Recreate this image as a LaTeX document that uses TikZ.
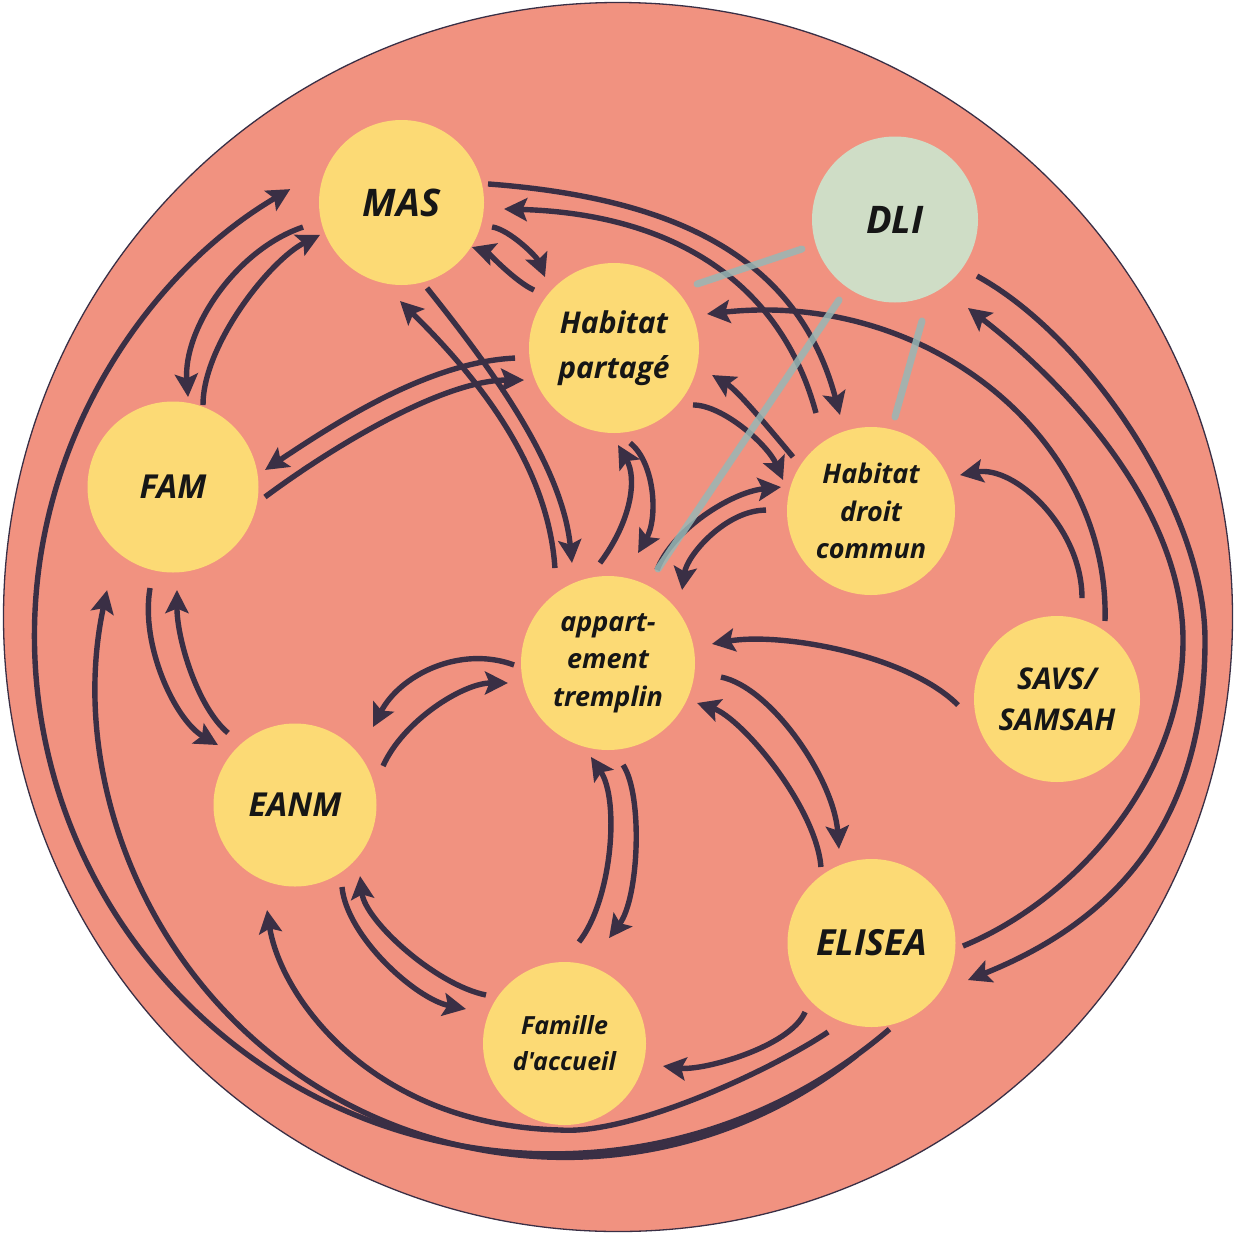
\documentclass[tikz,border=0pt]{standalone}
\usepackage{fontspec}
\setmainfont{Open Sans}[Ligatures=TeXOff]
\usetikzlibrary{arrows.meta,calc}
\definecolor{salmonbg}{HTML}{F19280}
\definecolor{hubfill}{HTML}{FCDA75}
\definecolor{dlifill}{HTML}{CFDDC6}
\definecolor{inkc}{HTML}{3A2F45}
\definecolor{textc}{HTML}{161616}
\definecolor{tiec}{HTML}{98B7B5}
\begin{document}
\begin{tikzpicture}[x=1pt,y=-1pt,
  hub/.style={circle, fill=hubfill, inner sep=0pt, minimum size=#1,
    align=center, text=textc},
  lbl/.style 2 args={font=\fontsize{#1}{#2}\selectfont\bfseries\itshape},
  link/.style={draw=inkc, line width=5.4pt,
    -{Stealth[length=23pt,width=23pt,inset=4.5pt]}},
  tie/.style={draw=tiec, line width=7pt, line cap=round, opacity=0.85}]
\useasboundingbox (0,0) rectangle (1236,1234);
\fill[white] (0,0) rectangle (1236,1234);
\draw[fill=salmonbg, draw=inkc, line width=1.3pt] (618,617) circle[radius=614.5];

% places
\node[hub=165pt, lbl={38}{42}] (MAS) at (401.5,202.5) {\raisebox{-4pt}{MAS}};
\node[hub=166pt, lbl={38}{42}, fill=dlifill] (DLI) at (895,219.5) {DLI};
\node[hub=170pt, lbl={30}{45}] (Hp) at (614,348) {Habitat\\partagé};
\node[hub=171pt, lbl={33}{36}] (FAM) at (173,487) {FAM};
\node[hub=168pt, lbl={27}{37.5}] (Hdc) at (871,511) {Habitat\\droit\\commun};
\node[hub=174pt, lbl={27}{37.5}] (APP) at (608,663) {appart-\\ement\\tremplin};
\node[hub=166pt, lbl={30}{41}] (SAVS) at (1057,699) {SAVS/\\SAMSAH};
\node[hub=163pt, lbl={33}{36}] (EANM) at (295,805) {EANM};
\node[hub=168pt, lbl={36}{40}] (ELISEA) at (871.5,943) {ELISEA};
\node[hub=163pt, lbl={25}{36}] (FAC) at (564.5,1043.5) {Famille\\d'accueil};

% bend points of the long outer connectors
\coordinate (bendE) at (1205,640);
\coordinate (bendF) at (1183,640);
\coordinate (bendS) at (560,1130);

% MAS links
\draw[link] ($(MAS)+(15.1:93.8)$) .. controls +(18,3) and +(-8,-20) .. ($(Hp)+(-134.2:99)$);
\draw[link] ($(Hp)+(-144.1:98.8)$) .. controls +(-18,-8) and +(15,5) .. ($(MAS)+(32.3:83.4)$);
\draw[link] ($(MAS)+(73.4:89.2)$) .. controls +(60,75) and +(-10,-100) .. ($(APP)+(-109.8:106.3)$);
\draw[link] ($(APP)+(-119.2:108.8)$) .. controls +(-7,-108) and +(70,69) .. ($(MAS)+(90.9:98.5)$);
\draw[link] ($(MAS)+(-12.1:88.5)$) .. controls +(200,15) and +(-40,-150) .. ($(Hdc)+(-107.9:100.9)$);
\draw[link] ($(Hdc)+(-119.3:112.4)$) .. controls +(-35,-130) and +(170,5) .. ($(MAS)+(3.6:102.7)$);
\draw[link] ($(MAS)+(166:101.5)$) .. controls +(-68,23) and +(-5,-67) .. ($(FAM)+(-80.5:91.2)$);
\draw[link] ($(FAM)+(-69.9:87.3)$) .. controls +(0,-60) and +(-50,25) .. ($(MAS)+(158.3:87.7)$);

% Habitat partagé links
\draw[link] ($(Hp)+(174.2:99.5)$) .. controls +(-85,4) and +(75,-50) .. ($(FAM)+(-10.5:93.6)$);
\draw[link] ($(FAM)+(6.2:92.5)$) .. controls +(70,-52) and +(-80,0) .. ($(Hp)+(160.4:95.5)$);
\draw[link] ($(APP)+(-94.6:100.3)$) .. controls +(32,-43) and +(19,33) .. ($(Hp)+(87.6:97.1)$);
\draw[link] ($(Hp)+(80.4:96.3)$) .. controls +(25,20) and +(20,-35) .. ($(APP)+(-74.7:114)$);
\draw[link] ($(Hp)+(35.8:97.4)$) .. controls +(30,0) and +(-15,-35) .. ($(Hdc)+(-160.6:93.3)$);
\draw[link] ($(Hdc)+(-145.3:94.9)$) .. controls +(-25,-30) and +(25,15) .. ($(Hp)+(15.4:101.7)$);

% Habitat droit commun links
\draw[link] ($(APP)+(-62.2:105.1)$) .. controls +(15,-40) and +(-50,5) .. ($(Hdc)+(-165.1:93.1)$);
\draw[link] ($(Hdc)+(180.5:105)$) .. controls +(-40,0) and +(5,-35) .. ($(APP)+(-44.6:104)$);

% SAVS/SAMSAH links
\draw[link] ($(SAVS)+(-76.1:104)$) .. controls +(0,-70) and +(55,-10) .. ($(Hdc)+(-22:96)$);
\draw[link] ($(SAVS)+(-58.4:91.6)$) .. controls +(5,-181) and +(223,-24) .. ($(Hp)+(-20.1:99)$);
\draw[link] ($(SAVS)+(176.5:99.2)$) .. controls +(-50,-50) and +(70,-12) .. ($(APP)+(-10.4:105.7)$);

% DLI and ELISEA along the right rim
\draw[link] ($(DLI)+(34.6:99.6)$) .. controls +(110,60) and +(0,-130) .. (bendE)
  .. controls +(0,180) and +(150,-60) .. ($(ELISEA)+(21:103.3)$);
\draw[link] ($(ELISEA)+(1.9:91.5)$) .. controls +(110,-45) and +(0,140) .. (bendF)
  .. controls +(0,-130) and +(100,77) .. ($(DLI)+(50.5:114.7)$);

% appartement tremplin links
\draw[link] ($(APP)+(7.1:113.9)$) .. controls +(50,10) and +(-5,-70) .. ($(ELISEA)+(-109.1:99.5)$);
\draw[link] ($(ELISEA)+(-123.6:91.3)$) .. controls +(-5,-60) and +(45,15) .. ($(APP)+(24.2:97.6)$);
\draw[link] ($(APP)+(178.8:94)$) .. controls +(-54,-20) and +(27,-52) .. ($(EANM)+(-45:110.3)$);
\draw[link] ($(EANM)+(-23.9:96.3)$) .. controls +(20,-45) and +(-45,0) .. ($(APP)+(168.7:102)$);
\draw[link] ($(FAC)+(-81.9:102.5)$) .. controls +(33,-42) and +(29,43) .. ($(APP)+(100.3:95.5)$);
\draw[link] ($(APP)+(81.6:103.1)$) .. controls +(20,30) and +(30,-40) .. ($(FAC)+(-67.1:114.5)$);

% EANM links
\draw[link] ($(EANM)+(60.2:94.5)$) .. controls +(5,50) and +(-50,-10) .. ($(FAC)+(-160.7:104.4)$);
\draw[link] ($(FAC)+(-148.3:92.3)$) .. controls +(-50,-10) and +(5,45) .. ($(EANM)+(47.5:96.3)$);
\draw[link] ($(FAM)+(102.8:103.6)$) .. controls +(-10,57) and +(-43,-25) .. ($(EANM)+(-142.1:97.6)$);
\draw[link] ($(EANM)+(-132.9:98.4)$) .. controls +(-30,-25) and +(0,50) .. ($(FAM)+(87.8:103.1)$);

% ELISEA links along the bottom
\draw[link] ($(ELISEA)+(133.9:95.8)$) .. controls +(-15,35) and +(40,5) .. ($(FAC)+(12.9:101)$);
\draw[link] ($(ELISEA)+(116:99)$) .. controls +(-60,40) and +(70,5) .. (bendS)
  .. controls +(-190,-5) and +(13,85) .. ($(EANM)+(104.9:108.7)$);
\draw[link] ($(ELISEA)+(97.4:113)$) arc[start angle=51.4, end angle=192.2, radius=468.3];
\draw[link] ($(ELISEA)+(78.2:88)$) arc[start angle=49.4, end angle=239.6, radius=518];

% DLI ties
\draw[tie] ($(DLI)+(162.4:97.6)$) -- ($(Hp)+(-37.6:104.8)$);
\draw[tie] ($(DLI)+(124.8:98)$) -- ($(APP)+(-62:106.5)$);
\draw[tie] ($(DLI)+(75.1:105)$) -- ($(Hdc)+(-75.7:97)$);
\end{tikzpicture}
\end{document}
